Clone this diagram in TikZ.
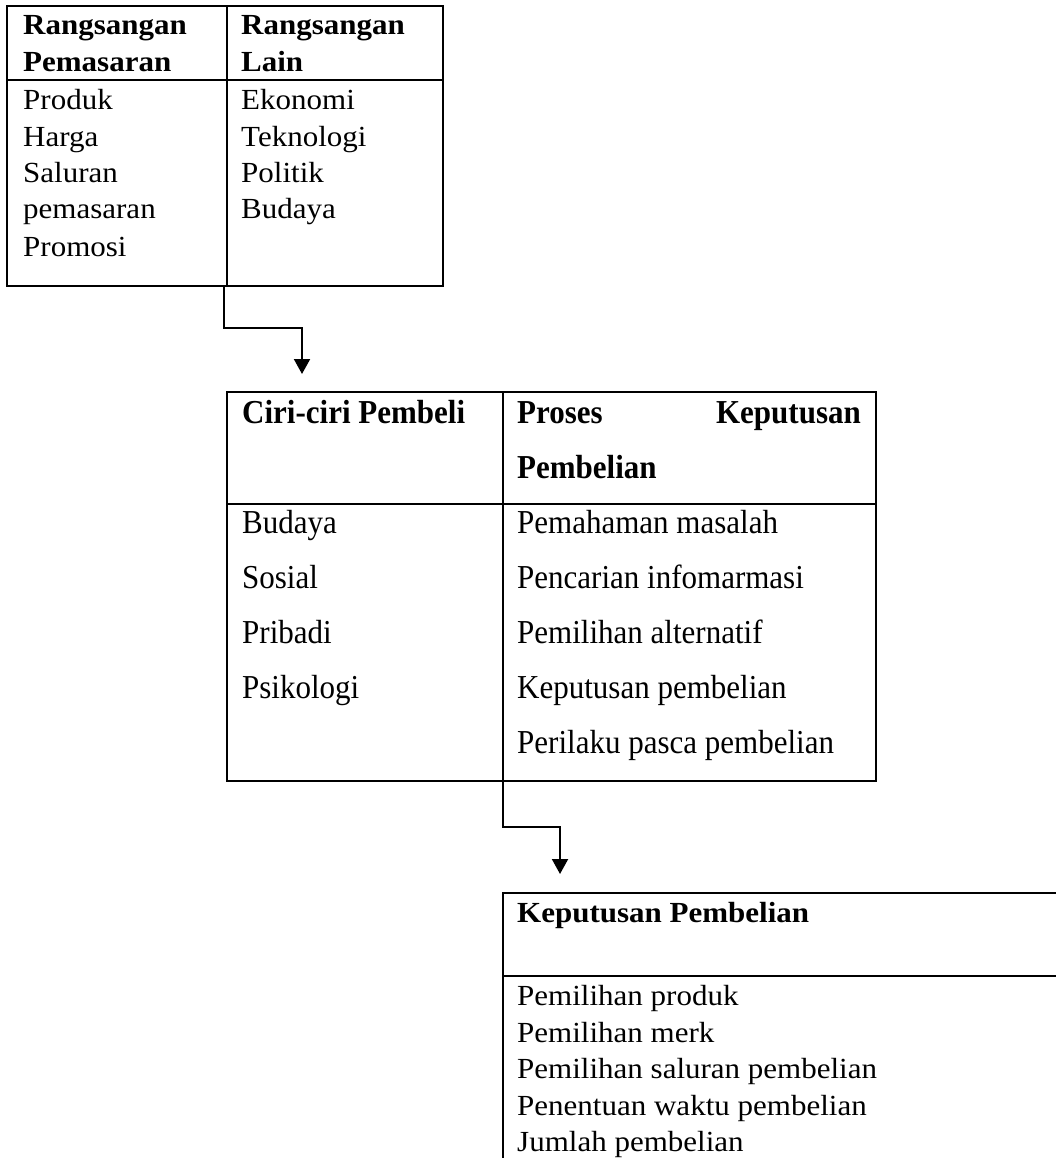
\documentclass[tikz,border=0pt]{standalone}
\usepackage{fontspec}
\usepackage{graphicx}
\setmainfont{Liberation Serif}
\usetikzlibrary{arrows.meta}
\newcommand{\shortT}[1]{\scalebox{1}[0.94]{#1}}
\newcommand{\tallT}[1]{\scalebox{1}[1.08]{#1}}
\begin{document}
\begin{tikzpicture}[x=1pt,y=-1pt,
  tline/.style={line width=2.3pt},
  conn/.style={line width=2pt,-{Triangle[width=16pt,length=15pt]}},
  txt/.style={anchor=base west,inner sep=0pt,font=\fontsize{31}{36}\selectfont},
  hdr/.style={txt,font=\fontsize{31}{36}\selectfont\bfseries},
  box/.style={draw,tline,anchor=north west,inner sep=0pt,outer sep=0pt}]
\useasboundingbox[fill=white] (0,0) rectangle (1056,1158);

% ---- Table 1 ----
\node[box,minimum width=436pt,minimum height=280pt] (t1) at (7,6) {};
\draw[tline] (7,80) -- (443,80);
\draw[tline] (227,6) -- (227,286);
\node[hdr] (h1a) at (23,35) {\shortT{Rangsangan}};
\node[hdr] (h1b) at (23,72) {\shortT{Pemasaran}};
\node[hdr] (h1c) at (241,35) {\shortT{Rangsangan}};
\node[hdr] (h1d) at (241,72) {\shortT{Lain}};
\node[txt] (a1) at (23,110) {\shortT{Produk}};
\node[txt] (a2) at (23,147) {\shortT{Harga}};
\node[txt] (a3) at (23,183) {\shortT{Saluran}};
\node[txt] (a4) at (23,219) {\shortT{pemasaran}};
\node[txt] (a5) at (23,256) {\shortT{Promosi}};
\node[txt] (b1) at (241,110) {\shortT{Ekonomi}};
\node[txt] (b2) at (241,147) {\shortT{Teknologi}};
\node[txt] (b3) at (241,183) {\shortT{Politik}};
\node[txt] (b4) at (241,219) {\shortT{Budaya}};

% ---- Table 2 ----
\node[box,minimum width=649pt,minimum height=389pt] (t2) at (227,392) {};
\draw[tline] (227,504) -- (876,504);
\draw[tline] (503,392) -- (503,781);
\node[hdr] (h2a) at (242,423) {\tallT{Ciri-ciri Pembeli}};
\node[hdr] (h2b) at (517,423) {\tallT{Proses}};
\node[hdr,anchor=base east] (h2c) at (861,423) {\tallT{Keputusan}};
\node[hdr] (h2d) at (517,478) {\tallT{Pembelian}};
\node[txt] (c1) at (242,533) {\tallT{Budaya}};
\node[txt] (c2) at (242,588) {\tallT{Sosial}};
\node[txt] (c3) at (242,643) {\tallT{Pribadi}};
\node[txt] (c4) at (242,698) {\tallT{Psikologi}};
\node[txt] (d1) at (517,533) {\tallT{Pemahaman masalah}};
\node[txt] (d2) at (517,588) {\tallT{Pencarian infomarmasi}};
\node[txt] (d3) at (517,643) {\tallT{Pemilihan alternatif}};
\node[txt] (d4) at (517,698) {\tallT{Keputusan pembelian}};
\node[txt] (d5) at (517,753) {\tallT{Perilaku pasca pembelian}};

% ---- Table 3 ----
\coordinate (t3nw) at (503,893);
\draw[tline] (1057,893) -- (t3nw) -- (503,1159);
\draw[tline] (503,976) -- (1057,976);
\node[hdr] (h3) at (517,922) {\shortT{Keputusan Pembelian}};
\node[txt] (e1) at (517,1005) {\shortT{Pemilihan produk}};
\node[txt] (e2) at (517,1042) {\shortT{Pemilihan merk}};
\node[txt] (e3) at (517,1078) {\shortT{Pemilihan saluran pembelian}};
\node[txt] (e4) at (517,1115) {\shortT{Penentuan waktu pembelian}};
\node[txt] (e5) at (517,1151) {\shortT{Jumlah pembelian}};

% ---- Connectors ----
\coordinate (s1) at (224,285);
\coordinate (e1a) at (302,374);
\draw[conn] (s1) |- (302,328) -- (e1a);
\coordinate (s2) at (503,781);
\coordinate (e2a) at (560,874);
\draw[conn] (s2) |- (560,827) -- (e2a);
\end{tikzpicture}
\end{document}
